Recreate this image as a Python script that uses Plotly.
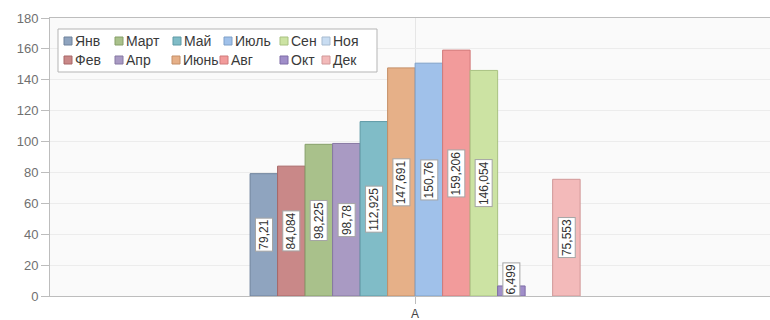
import plotly.graph_objects as go

months = ["Янв", "Фев", "Март", "Апр", "Май", "Июнь", "Июль", "Авг", "Сен", "Окт", "Ноя", "Дек"]
values = [79.21, 84.084, 98.225, 98.78, 112.925, 147.691, 150.76, 159.206, 146.054, 6.499, None, 75.553]
category = ["A"]
colors = ["#8fa4bf", "#c98888", "#a9c18b", "#a99ac3", "#80bcc7", "#e6b088", "#a0c1ea",
          "#f29b9b", "#cce3a3", "#a08ec9", "#c9ddf2", "#f3baba"]
edges = ["#6e829c", "#a86666", "#869f69", "#8678a3", "#5e9aa5", "#c48e66", "#7ea0c8",
         "#d07a7a", "#a9c281", "#7e6ca7", "#a7bbd0", "#d19898"]
yticks = [0, 20, 40, 60, 80, 100, 120, 140, 160, 180]

BARGAP = 0.548
n = len(months)

fig = go.Figure()
for i, m in enumerate(months):
    fig.add_trace(go.Bar(
        x=category, y=[values[i]], name=m,
        marker=dict(color=colors[i], line=dict(color=edges[i], width=1)),
        showlegend=False, hoverinfo="name+y",
    ))

# value labels (white boxed, rotated)
w = (1 - BARGAP) / n
annotations = []
for i, v in enumerate(values):
    if v is None:
        continue
    xc = -(1 - BARGAP) / 2 + (i + 0.5) * w
    annotations.append(dict(
        x=xc, y=max(v / 2, 11), xref="x", yref="y",
        text=str(v).replace(".", ","), textangle=-90, showarrow=False,
        font=dict(family="Liberation Sans, Arial", size=12, color="#333"),
        bgcolor="white", bordercolor="#a5a5a5", borderwidth=1, borderpad=1,
        xanchor="center", yanchor="middle",
    ))

# custom legend laid out in two rows (column-major, like the original)
L, R, T, B = 50, 770, 18, 296
def px(x):
    return (x - L) / (R - L)
def py(y):
    return (B - y) / (B - T)

shapes = [dict(type="rect", xref="paper", yref="paper",
               x0=px(58), x1=px(377), y0=py(29), y1=py(72),
               fillcolor="white", line=dict(color="#b5b5b5", width=1), layer="above")]
row_y = [41, 60]
sym_x = [[64, 115, 173, 224, 280, 322], [64, 115, 172, 220, 280, 322]]
for i, m in enumerate(months):
    col, row = i // 2, i % 2
    sx, sy = sym_x[row][col], row_y[row]
    shapes.append(dict(type="rect", xref="paper", yref="paper",
                       x0=px(sx), x1=px(sx + 8), y0=py(sy + 4), y1=py(sy - 4),
                       fillcolor=colors[i], line=dict(color=edges[i], width=1), layer="above"))
    annotations.append(dict(x=px(sx + 9), y=py(sy), xref="paper", yref="paper",
                            text=m, showarrow=False, xanchor="left", yanchor="middle",
                            font=dict(family="Liberation Sans, Arial", size=14, color="#3a3a3a")))

fig.update_layout(
    width=770, height=320,
    margin=dict(l=L, r=0, t=T, b=320 - B),
    barmode="group", bargap=BARGAP, bargroupgap=0,
    plot_bgcolor="#fafafa", paper_bgcolor="white",
    showlegend=False,
    annotations=annotations, shapes=shapes,
    font=dict(family="Liberation Sans, Arial"),
)
fig.update_xaxes(type="category", range=[-0.5, 0.486],
                 showline=True, linecolor="#bdbdbd", linewidth=1, mirror=True,
                 showgrid=True, gridcolor="#e6e6e6",
                 ticks="outside", ticklen=7, tickcolor="#bdbdbd",
                 tickfont=dict(size=12, color="#444"))
fig.update_yaxes(range=[0, 180], tickvals=yticks,
                 showline=True, linecolor="#bdbdbd", linewidth=1,
                 showgrid=True, gridcolor="#ececec", zeroline=False,
                 ticks="outside", ticklen=8, tickcolor="#bdbdbd",
                 tickfont=dict(size=13, color="#707070"))

fig.write_html("out.html")
